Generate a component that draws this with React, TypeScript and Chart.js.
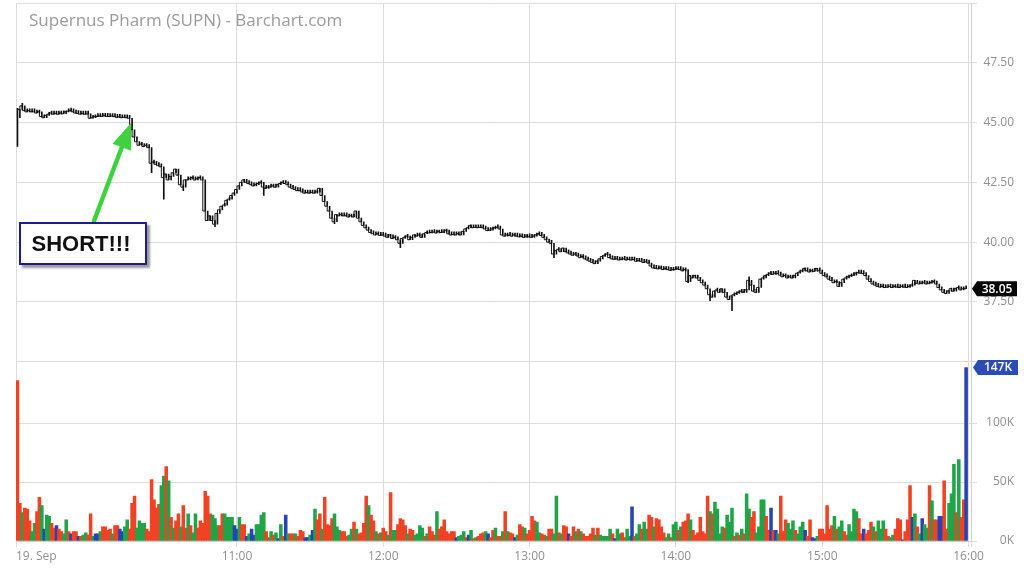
import React, { useEffect, useRef } from 'react';
import { Chart, registerables } from 'chart.js';

Chart.register(...registerables);

// ---------- DATA ----------
// 1-minute closes, 09:30 .. 15:59 (390 bars)
const openingPrice = 45.6;
const closes: number[] = [
  45.2, 45.55, 45.7, 45.5, 45.45, 45.5, 45.45, 45.45, 45.4, 45.45,
  45.25, 45.2, 45.3, 45.35, 45.4, 45.35, 45.38, 45.35, 45.4, 45.37,
  45.45, 45.48, 45.5, 45.45, 45.4, 45.38, 45.35, 45.37, 45.35, 45.36,
  45.18, 45.2, 45.25, 45.25, 45.28, 45.26, 45.3, 45.26, 45.25, 45.27,
  45.25, 45.22, 45.24, 45.2, 45.22, 45.2, 45.18, 44.7, 44.4, 44.2,
  44.05, 44.1, 44.0, 44.05, 43.95, 43.3, 43.35, 43.25, 43.2, 43.15,
  42.7, 42.85, 42.6, 42.75, 42.9, 43.05, 42.8, 42.4, 42.3, 42.6,
  42.6, 42.65, 42.7, 42.6, 42.65, 42.7, 42.6, 41.3, 40.9, 41.1,
  40.9, 40.75, 41.2, 41.35, 41.5, 41.55, 41.75, 41.8, 41.95, 42.05,
  42.2, 42.35, 42.5, 42.6, 42.5, 42.45, 42.4, 42.35, 42.4, 42.45,
  42.5, 42.3, 42.25, 42.3, 42.3, 42.35, 42.3, 42.4, 42.45, 42.5,
  42.45, 42.4, 42.3, 42.25, 42.2, 42.15, 42.15, 42.1, 42.05, 42.07,
  42.05, 42.08, 42.05, 42.1, 42.25, 41.95, 41.7, 41.5, 41.3, 41.0,
  40.85, 41.15, 41.1, 41.15, 41.1, 41.1, 41.05, 41.1, 41.05, 41.3,
  41.0, 40.85, 40.7, 40.6, 40.5, 40.4, 40.35, 40.3, 40.35, 40.28,
  40.3, 40.25, 40.2, 40.3, 40.15, 40.2, 40.1, 39.95, 40.15, 40.2,
  40.25, 40.1, 40.2, 40.3, 40.25, 40.3, 40.2, 40.35, 40.4, 40.38,
  40.4, 40.42, 40.38, 40.45, 40.4, 40.42, 40.5, 40.35, 40.3, 40.32,
  40.3, 40.35, 40.3, 40.45, 40.55, 40.6, 40.7, 40.6, 40.62, 40.6,
  40.62, 40.6, 40.55, 40.48, 40.5, 40.55, 40.6, 40.62, 40.55, 40.3,
  40.25, 40.3, 40.28, 40.25, 40.3, 40.25, 40.22, 40.25, 40.2, 40.25,
  40.22, 40.2, 40.25, 40.3, 40.35, 40.28, 40.2, 40.1, 40.0, 39.95,
  39.5, 39.65, 39.7, 39.6, 39.75, 39.6, 39.55, 39.5, 39.45, 39.5,
  39.42, 39.35, 39.4, 39.3, 39.25, 39.2, 39.15, 39.1, 39.2, 39.3,
  39.4, 39.45, 39.5, 39.35, 39.3, 39.28, 39.3, 39.25, 39.28, 39.3,
  39.25, 39.28, 39.25, 39.27, 39.2, 39.22, 39.2, 39.15, 39.18, 39.12,
  39.0, 38.92, 38.9, 38.88, 38.92, 38.85, 38.9, 38.85, 38.82, 38.85,
  38.85, 38.9, 38.85, 38.8, 38.85, 38.35, 38.6, 38.5, 38.6, 38.5,
  38.4, 38.3, 38.2, 38.05, 37.8, 37.7, 37.95, 38.0, 37.9, 38.05,
  37.9, 37.7, 37.6, 37.75, 37.8, 37.85, 37.9, 37.95, 37.9, 38.0,
  38.4, 38.2, 37.95, 37.9, 38.1, 38.45, 38.5, 38.6, 38.65, 38.7,
  38.65, 38.7, 38.68, 38.62, 38.55, 38.6, 38.5, 38.55, 38.5, 38.6,
  38.7, 38.75, 38.8, 38.9, 38.8, 38.75, 38.8, 38.78, 38.9, 38.8,
  38.7, 38.6, 38.55, 38.45, 38.4, 38.3, 38.35, 38.15, 38.3, 38.45,
  38.5, 38.55, 38.6, 38.62, 38.7, 38.72, 38.7, 38.68, 38.6, 38.45,
  38.35, 38.25, 38.2, 38.15, 38.12, 38.15, 38.1, 38.12, 38.15, 38.1,
  38.15, 38.12, 38.1, 38.15, 38.12, 38.1, 38.15, 38.2, 38.4, 38.28,
  38.25, 38.28, 38.3, 38.25, 38.28, 38.3, 38.35, 38.25, 38.1, 38.0,
  37.9, 37.85, 37.95, 38.05, 37.95, 38.05, 38.1, 38.0, 38.05, 38.05,
];

// bars whose low / high reached beyond open & close
const wickLowIdx = [0, 55, 60, 68, 81, 101, 130, 157, 220, 275, 284, 293];
const wickLowVal = [44.0, 42.9, 41.8, 42.15, 40.65, 41.95, 40.77, 39.77, 39.35, 38.3, 37.55, 37.13];
const wickHighIdx = [2, 300];
const wickHighVal = [45.8, 38.55];

// volume per minute, thousands of shares
const volumesK: number[] = [
  136, 32, 24, 28, 27, 17, 8, 15, 25, 37,
  30, 10, 22, 21, 15, 11, 13, 10, 8, 6,
  18, 8, 6, 8, 8, 4, 4, 5, 7, 5,
  23, 4, 6, 6, 8, 12, 12, 9, 10, 6,
  13, 13, 10, 8, 12, 18, 10, 32, 38, 11,
  17, 15, 15, 10, 8, 52, 35, 28, 31, 47,
  55, 63, 51, 20, 11, 17, 23, 12, 30, 11,
  23, 13, 7, 23, 11, 17, 15, 42, 38, 23,
  22, 19, 13, 13, 23, 23, 20, 20, 20, 13,
  10, 20, 14, 14, 4, 6, 10, 5, 14, 14,
  22, 24, 8, 3, 8, 5, 7, 2, 14, 4,
  22, 6, 6, 6, 6, 4, 9, 8, 3, 3,
  5, 9, 27, 18, 23, 10, 37, 14, 13, 19,
  23, 12, 9, 8, 8, 4, 5, 10, 16, 10,
  6, 7, 15, 38, 30, 22, 17, 8, 6, 7,
  11, 8, 5, 41, 9, 9, 14, 19, 18, 13,
  6, 10, 9, 5, 6, 13, 11, 4, 6, 12,
  8, 5, 25, 10, 12, 18, 8, 6, 8, 8,
  3, 4, 5, 8, 3, 5, 9, 2, 3, 4,
  6, 7, 8, 6, 3, 9, 11, 4, 4, 8,
  25, 8, 7, 6, 3, 5, 14, 12, 11, 6,
  9, 21, 17, 16, 7, 6, 5, 4, 10, 10,
  6, 38, 7, 6, 13, 12, 6, 4, 12, 8,
  10, 8, 6, 4, 4, 6, 11, 5, 11, 5,
  4, 4, 4, 10, 6, 2, 10, 6, 7, 3,
  10, 4, 29, 4, 6, 14, 10, 16, 10, 22,
  20, 12, 19, 18, 12, 7, 3, 6, 3, 14,
  16, 9, 12, 16, 17, 23, 18, 9, 5, 7,
  20, 8, 6, 38, 25, 23, 33, 27, 6, 12,
  11, 22, 16, 28, 4, 7, 5, 10, 6, 40,
  27, 20, 25, 7, 12, 35, 35, 21, 9, 28,
  9, 9, 6, 38, 8, 18, 15, 10, 17, 9,
  6, 12, 16, 9, 4, 18, 3, 2, 4, 10,
  10, 6, 30, 10, 13, 21, 10, 12, 17, 8,
  5, 14, 8, 27, 25, 19, 6, 10, 6, 9,
  16, 12, 8, 17, 10, 17, 10, 4, 3, 5,
  10, 19, 18, 1, 8, 18, 47, 20, 23, 12,
  6, 19, 14, 11, 47, 34, 18, 18, 21, 21,
  51, 10, 32, 40, 65, 24, 69, 20, 35, 147,
];

// volume bar direction: g = up, r = down, b = unchanged
const volumeDirRows: string[] = [
  'rrgrrrggrr', 'gbggrrbrrg', 'grbrrbrggr', 'rgbbgrrrrg', 'rrbbggrrrg',
  'gggrrrrrrg', 'grgrgrrgrr', 'grggrrrrrr', 'gggrrggggb', 'bgrrbgbbgg',
  'ggrrgrgbgr', 'bgrrgrrrbb', 'gbgrrgrrrr', 'gggrrrggrg', 'rrrrgrrgrg',
  'rrgrggrrrr', 'grrggggrgr', 'rrgrrrrrrr', 'bgggrbgrgr', 'rrgbrrgrrg',
  'rgrrbgrrgr', 'rrrggrrgrr', 'ggrgrrbrrg', 'rgrrrrrgrg', 'ggggrbggrr',
  'ggbrggrggr', 'rgrrrrggrg', 'grgrrrgrrr', 'rrrrgrgggg', 'rgggrgrgrg',
  'grrggggrrb', 'rbgrrrgggr', 'gggbrrbbgr', 'rrrrrgrggr', 'rggggrrbrr',
  'rgrgggrrgg', 'rrrbrrrbgr', 'gbggrgrrbb', 'rrgggrgrrb',
];

// axis ticks (minutes after 09:30)
const timeTickMinutes = [-0.6, 90, 150, 210, 270, 330, 390, 391];
const timeTickLabels = ['19. Sep', '11:00', '12:00', '13:00', '14:00', '15:00', '16:00', ''];
const priceTicks = [35, 37.5, 40, 42.5, 45, 47.5, 50];
const volumeTicksK = [0, 50, 100, 152];

const titleText = 'Supernus Pharm (SUPN) - Barchart.com';
const calloutText = 'SHORT!!!';

// ---------- STYLE ----------
const dirColor: Record<string, string> = { g: '#1fa548', r: '#ee4324', b: '#2744b3' };
const gridColor = '#dcdcdc';
const labelColor = '#8f8f8f';
const FONT = "'Open Sans', 'DejaVu Sans', sans-serif";

const tagPlugin = {
  id: 'lastTags',
  afterDraw(chart: any) {
    const ctx = chart.ctx as CanvasRenderingContext2D;
    const yS = chart.scales.y;
    const vS = chart.scales.yv;
    const lastClose = closes[closes.length - 1];
    const lastVol = volumesK[volumesK.length - 1];
    const drawTag = (x0: number, yc: number, text: string, fill: string) => {
      const h = 15, w = 40, tip = 5;
      ctx.save();
      ctx.fillStyle = fill;
      ctx.beginPath();
      ctx.moveTo(x0, yc);
      ctx.lineTo(x0 + tip, yc - h / 2);
      ctx.lineTo(x0 + tip + w, yc - h / 2);
      ctx.lineTo(x0 + tip + w, yc + h / 2);
      ctx.lineTo(x0 + tip, yc + h / 2);
      ctx.closePath();
      ctx.fill();
      ctx.fillStyle = '#ffffff';
      ctx.font = `600 12px ${FONT}`;
      ctx.textAlign = 'center';
      ctx.textBaseline = 'middle';
      ctx.fillText(text, x0 + tip + w / 2, yc + 0.5);
      ctx.restore();
    };
    drawTag(972, yS.getPixelForValue(lastClose), lastClose.toFixed(2), '#050505');
    drawTag(973, vS.getPixelForValue(lastVol), `${lastVol}K`, '#2a4cb4');
  },
};

const arrowPlugin = {
  id: 'shortArrow',
  afterDraw(chart: any) {
    const ctx = chart.ctx as CanvasRenderingContext2D;
    const tail = { x: 94, y: 221 };
    const tipP = { x: 131, y: 123 };
    const dx = tipP.x - tail.x, dy = tipP.y - tail.y;
    const len = Math.hypot(dx, dy);
    const ux = dx / len, uy = dy / len;
    const nx = -uy, ny = ux;
    const headLen = 26, headHalf = 10;
    const bx = tipP.x - ux * headLen, by = tipP.y - uy * headLen;
    ctx.save();
    ctx.strokeStyle = '#3fd23f';
    ctx.fillStyle = '#3fd23f';
    ctx.lineWidth = 4.5;
    ctx.lineCap = 'round';
    ctx.beginPath();
    ctx.moveTo(tail.x, tail.y);
    ctx.lineTo(bx, by);
    ctx.stroke();
    ctx.beginPath();
    ctx.moveTo(tipP.x, tipP.y);
    ctx.lineTo(bx + nx * headHalf, by + ny * headHalf);
    ctx.lineTo(bx - nx * headHalf, by - ny * headHalf);
    ctx.closePath();
    ctx.fill();
    ctx.restore();
  },
};

const fitY = (s: any) => {
  s.width = 43;
  s.paddingTop = 0;
  s.paddingBottom = 0;
};

export default function App() {
  const canvasRef = useRef<HTMLCanvasElement | null>(null);

  useEffect(() => {
    if (!canvasRef.current) return;
    Chart.defaults.font.family = FONT;

    const volumeDirs = volumeDirRows.join('').split('');

    const priceBars = closes.map((c, i) => {
      const prev = i === 0 ? openingPrice : closes[i - 1];
      let lo = Math.min(prev, c);
      let hi = Math.max(prev, c);
      const li = wickLowIdx.indexOf(i);
      if (li >= 0) lo = Math.min(lo, wickLowVal[li]);
      const hiIdx = wickHighIdx.indexOf(i);
      if (hiIdx >= 0) hi = Math.max(hi, wickHighVal[hiIdx]);
      return { x: i, y: [lo, hi] };
    });

    const chart = new Chart(canvasRef.current, {
      type: 'bar',
      data: {
        datasets: [
          {
            type: 'bar',
            data: priceBars as any,
            yAxisID: 'y',
            backgroundColor: '#111111',
            barThickness: 1,
            minBarLength: 3,
            grouped: false,
            order: 1,
          } as any,
          {
            type: 'line',
            data: closes.map((c, i) => ({ x: i, y: c })),
            yAxisID: 'y',
            borderColor: '#111111',
            borderWidth: 1,
            stepped: 'after',
            pointRadius: 0,
            order: 0,
          } as any,
          {
            type: 'bar',
            data: volumesK.map((v, i) => ({ x: i, y: v })),
            yAxisID: 'yv',
            backgroundColor: volumeDirs.map((d) => dirColor[d]),
            barThickness: 2.9,
            grouped: false,
            order: 2,
          } as any,
        ],
      },
      options: {
        animation: false,
        responsive: false,
        events: [],
        layout: { padding: { left: 16, top: 3, right: 10, bottom: 0 } },
        plugins: {
          legend: { display: false },
          tooltip: { enabled: false },
        },
        scales: {
          x: {
            type: 'linear',
            min: -0.6,
            max: 391,
            offset: false,
            afterBuildTicks: (s: any) => {
              s.ticks = timeTickMinutes.map((v) => ({ value: v }));
            },
            afterFit: (s: any) => {
              s.height = 39;
              s.paddingLeft = 0;
              s.paddingRight = 0;
            },
            ticks: {
              autoSkip: false,
              maxRotation: 0,
              align: 'inner',
              padding: 2,
              color: labelColor,
              font: { size: 12 },
              callback: (_v: any, idx: number) => timeTickLabels[idx],
            },
            grid: { color: gridColor, tickLength: 6, offset: false },
            border: { display: true, color: '#cfcfcf' },
          },
          y: {
            type: 'linear',
            position: 'right',
            stack: 'panes',
            stackWeight: 2,
            weight: 0,
            min: 35,
            max: 50,
            afterBuildTicks: (s: any) => {
              s.ticks = priceTicks.map((v) => ({ value: v }));
            },
            afterFit: fitY,
            ticks: {
              crossAlign: 'far',
              padding: 6,
              color: labelColor,
              font: { size: 12 },
              callback: (v: any) => (v === 35 || v === 50 ? '' : Number(v).toFixed(2)),
            },
            grid: { color: gridColor, tickLength: 6 },
            border: { display: true, color: '#cfcfcf' },
          },
          yv: {
            type: 'linear',
            position: 'right',
            stack: 'panes',
            stackWeight: 1,
            weight: 1,
            min: 0,
            max: 152,
            afterBuildTicks: (s: any) => {
              s.ticks = volumeTicksK.map((v) => ({ value: v }));
            },
            afterFit: fitY,
            ticks: {
              crossAlign: 'far',
              padding: 6,
              color: labelColor,
              font: { size: 12 },
              callback: (v: any) => (v === 152 ? '' : `${v}K`),
            },
            grid: { color: gridColor, tickLength: 6 },
            border: { display: true, color: '#cfcfcf' },
          },
        } as any,
      },
      plugins: [tagPlugin, arrowPlugin],
    });

    return () => chart.destroy();
  }, []);

  return (
    <div
      style={{
        position: 'fixed',
        left: 0,
        top: 0,
        width: 1024,
        height: 580,
        background: '#ffffff',
        overflow: 'hidden',
      }}
    >
      <canvas ref={canvasRef} width={1024} height={580} style={{ width: 1024, height: 580, display: 'block' }} />
      <div
        style={{
          position: 'absolute',
          left: 29,
          top: 8,
          fontFamily: FONT,
          fontSize: 17,
          lineHeight: '23px',
          color: '#9a9a9a',
          whiteSpace: 'nowrap',
        }}
      >
        {titleText}
      </div>
      <div
        style={{
          position: 'absolute',
          left: 19,
          top: 222,
          width: 128,
          height: 43,
          boxSizing: 'border-box',
          border: '2px solid #1d1d8c',
          background: '#ffffff',
          boxShadow: '3px 3px 2px rgba(0,0,0,0.4)',
          display: 'flex',
          alignItems: 'center',
          justifyContent: 'center',
          fontFamily: "'Liberation Sans', Arial, sans-serif",
          fontWeight: 'bold',
          fontSize: 22,
          color: '#111111',
          paddingRight: 4,
        }}
      >
        {calloutText}
      </div>
    </div>
  );
}
